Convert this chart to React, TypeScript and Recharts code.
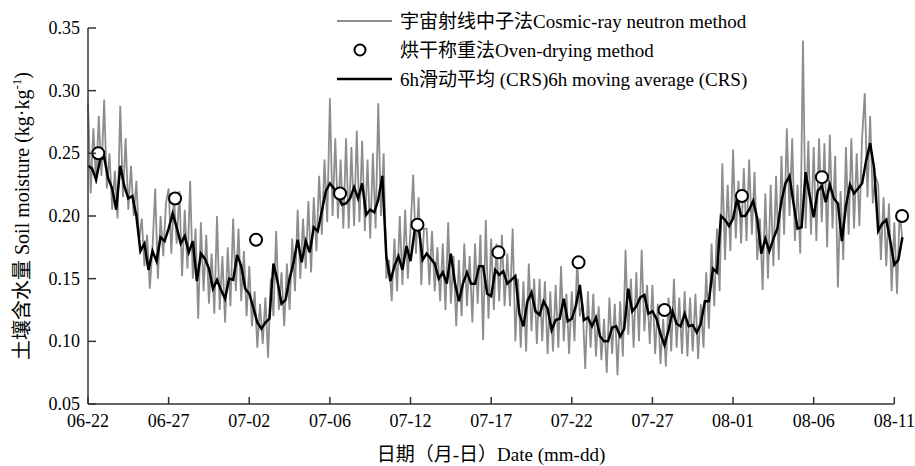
import {
  ComposedChart,
  Legend,
  Line,
  ReferenceLine,
  Scatter,
  XAxis,
  YAxis,
} from "recharts";

// tick labels on the date axis, one every 5 days from 06-22
const dateLabels = ["06-22", "06-27", "07-02", "07-06", "07-12", "07-17", "07-22", "07-27", "08-01", "08-06", "08-11"];
const dateTicks = [0, 5, 10, 15, 20, 25, 30, 35, 40, 45, 50];
const moistureTicks = [0.05, 0.1, 0.15, 0.2, 0.25, 0.3, 0.35];

// cosmic-ray neutron soil moisture, kg/kg x 1000, one value every 4 h from 06-22 00:00
const crsRaw = [
  290, 218, 270, 226, 280, 232,
  293, 222, 250, 205, 236, 198,
  288, 215, 262, 205, 240, 200,
  228, 180, 198, 160, 185, 142,
  175, 222, 150, 200, 168, 210,
  222, 170, 215, 178, 220, 152,
  205, 158, 228, 150, 190, 118,
  195, 140, 185, 130, 170, 122,
  200, 125, 168, 115, 175, 128,
  198, 140, 190, 132, 172, 120,
  160, 112, 140, 95, 130, 98,
  135, 87, 150, 120, 188, 125,
  155, 112, 162, 125, 182, 140,
  205, 150, 198, 158, 212, 155,
  215, 172, 232, 185, 245, 195,
  294, 200, 262, 198, 245, 190,
  262, 190, 255, 192, 268, 195,
  260, 188, 245, 182, 250, 190,
  290, 200, 250, 150, 165, 132,
  182, 140, 200, 145, 205, 150,
  190, 233, 170, 215, 145, 190,
  190, 145, 188, 140, 175, 132,
  178, 125, 195, 130, 168, 112,
  165, 120, 178, 128, 168, 115,
  178, 130, 185, 101, 197, 118,
  182, 125, 178, 132, 185, 128,
  170, 128, 190, 100, 150, 95,
  148, 92, 162, 108, 150, 98,
  150, 100, 148, 90, 140, 92,
  145, 95, 160, 100, 138, 90,
  140, 100, 165, 120, 130, 78,
  140, 95, 138, 88, 128, 85,
  118, 75, 135, 90, 130, 73,
  132, 88, 173, 105, 150, 95,
  155, 100, 173, 108, 145, 98,
  145, 90, 130, 82, 118, 80,
  135, 92, 150, 95, 135, 90,
  140, 88, 135, 92, 138, 86,
  130, 95, 155, 110, 178, 128,
  190, 140, 242, 165, 225, 172,
  253, 182, 228, 178, 238, 180,
  245, 185, 235, 165, 198, 141,
  218, 150, 225, 160, 232, 165,
  248, 185, 270, 200, 262, 180,
  225, 170, 340, 190, 260, 185,
  255, 180, 262, 195, 258, 175,
  265, 190, 248, 143, 220, 165,
  255, 185, 262, 190, 250, 192,
  262, 298, 215, 280, 210, 232,
  225, 165, 215, 160, 210, 140,
  195, 138, 205, 180,
];

// 6h moving average (CRS), kg/kg x 1000, one value every 6 h
const crsAvg = [
  240, 238, 229, 245,
  247, 230, 222, 205,
  240, 224, 214, 216,
  200, 172, 178, 157,
  172, 164, 183, 180,
  190, 202, 191, 178,
  184, 171, 180, 148,
  170, 166, 158, 142,
  149, 141, 134, 150,
  149, 169, 160, 142,
  138, 127, 115, 110,
  115, 118, 162, 148,
  130, 133, 150, 163,
  181, 163, 180, 171,
  191, 188, 204, 220,
  226, 222, 216, 209,
  210, 214, 223, 214,
  226, 201, 205, 203,
  213, 232, 168, 148,
  160, 168, 157, 176,
  164, 188, 192, 165,
  170, 166, 162, 150,
  155, 146, 170, 147,
  132, 146, 155, 146,
  146, 160, 160, 138,
  136, 157, 153, 156,
  146, 149, 152, 122,
  112, 132, 139, 124,
  121, 132, 126, 109,
  117, 118, 134, 116,
  118, 128, 145, 117,
  119, 112, 119, 104,
  100, 100, 111, 112,
  104, 110, 142, 124,
  128, 135, 137, 122,
  124, 118, 106, 97,
  109, 124, 114, 112,
  122, 112, 113, 107,
  114, 132, 132, 158,
  155, 200, 197, 192,
  198, 214, 200, 200,
  205, 212, 198, 170,
  182, 172, 182, 190,
  212, 226, 232, 210,
  190, 191, 235, 216,
  199, 220, 224, 211,
  225, 214, 210, 180,
  208, 225, 218, 222,
  226, 244, 258, 238,
  188, 194, 197, 180,
  161, 165, 183,
];

// oven-drying samples: day after 06-22 and soil moisture
const ovenDays = [0.64, 5.4, 10.42, 15.63, 20.43, 25.45, 30.42, 35.75, 40.55, 45.51, 50.48];
const ovenValues = [0.25, 0.214, 0.181, 0.218, 0.193, 0.171, 0.163, 0.125, 0.216, 0.231, 0.2];

const rawData = crsRaw.map((v, i) => ({ t: i / 6, v: v / 1000 }));
const avgData = crsAvg.map((v, i) => ({ t: i / 4, v: v / 1000 }));
const ovenData = ovenDays.map((t, i) => ({ t, v: ovenValues[i] }));

const FONT = '"Liberation Serif", "Times New Roman", "Noto Sans CJK SC", serif';
const GRAY = "#8d8d8d";
const AXIS = "#333";

const XTick = (props: any) => {
  const { x, y, payload } = props;
  const label = dateLabels[dateTicks.indexOf(payload.value)];
  return (
    <g>
      <line x1={x} y1={y} x2={x} y2={y - 7} stroke={AXIS} strokeWidth={1.5} />
      <text x={x} y={y + 23} textAnchor="middle" fontFamily={FONT} fontSize={18} fill="#000">
        {label}
      </text>
    </g>
  );
};

const YTick = (props: any) => {
  const { x, y, payload } = props;
  return (
    <g>
      <line x1={x} y1={y} x2={x + 8} y2={y} stroke={AXIS} strokeWidth={1.5} />
      <text x={x - 8} y={y + 6} textAnchor="end" fontFamily={FONT} fontSize={18} fill="#000">
        {payload.value.toFixed(2)}
      </text>
    </g>
  );
};

const XTitle = () => (
  <text x={491} y={461} textAnchor="middle" fontFamily={FONT} fontSize={19} fill="#000">
    日期（月-日）Date (mm-dd)
  </text>
);

const YTitle = () => (
  <text
    x={22}
    y={216}
    transform="rotate(-90 22 216)"
    textAnchor="middle"
    dy={7}
    fontFamily={FONT}
    fontSize={20}
    fill="#000"
  >
    土壤含水量 Soil moisture (kg·kg
    <tspan fontSize={13} dy={-8}>-1</tspan>
    <tspan dy={8}>)</tspan>
  </text>
);

const OvenDot = (props: any) => (
  <circle cx={props.cx} cy={props.cy} r={6} fill="#fff" stroke="#000" strokeWidth={2} />
);

const LegendBox = () => (
  <svg width={440} height={96} style={{ display: "block" }}>
    <g fontFamily={FONT} fontSize={19} fill="#000">
      <line x1={7} y1={21} x2={62} y2={21} stroke={GRAY} strokeWidth={2} />
      <text x={70} y={28}>宇宙射线中子法Cosmic-ray neutron method</text>
      <circle cx={30} cy={50} r={5.5} fill="#fff" stroke="#000" strokeWidth={2} />
      <text x={70} y={57}>烘干称重法Oven-drying method</text>
      <line x1={7} y1={79} x2={62} y2={79} stroke="#000" strokeWidth={2.5} />
      <text x={70} y={86}>6h滑动平均 (CRS)6h moving average (CRS)</text>
    </g>
  </svg>
);

export default function App() {
  return (
    <div style={{ position: "absolute", left: 0, top: 0, width: 915, height: 466, background: "#fff" }}>
      <ComposedChart width={915} height={466} margin={{ top: 28, right: 11, bottom: 0, left: 0 }}>
        <XAxis
          type="number"
          dataKey="t"
          domain={[0, 50.6]}
          ticks={dateTicks}
          height={62}
          axisLine={false}
          tickLine={false}
          tickSize={0}
          tickMargin={0}
          tick={XTick}
          label={XTitle}
        />
        <YAxis
          type="number"
          dataKey="v"
          domain={[0.05, 0.35]}
          ticks={moistureTicks}
          width={88}
          axisLine={{ stroke: AXIS, strokeWidth: 1.5 }}
          tickLine={false}
          tickSize={0}
          tickMargin={0}
          tick={YTick}
          label={YTitle}
        />
        <ReferenceLine
          segment={[
            { x: 0, y: 0.05 },
            { x: 50, y: 0.05 },
          ]}
          stroke={AXIS}
          strokeWidth={1.5}
        />
        <Line data={rawData} dataKey="v" type="linear" stroke={GRAY} strokeWidth={1.8} dot={false} isAnimationActive={false} />
        <Line data={avgData} dataKey="v" type="linear" stroke="#000" strokeWidth={2.5} dot={false} isAnimationActive={false} />
        <Scatter data={ovenData} dataKey="v" shape={OvenDot} isAnimationActive={false} />
        <Legend
          layout="vertical"
          verticalAlign="middle"
          align="center"
          content={() => <LegendBox />}
          wrapperStyle={{ left: 330, top: 0, width: 440, height: 96 }}
        />
      </ComposedChart>
    </div>
  );
}
